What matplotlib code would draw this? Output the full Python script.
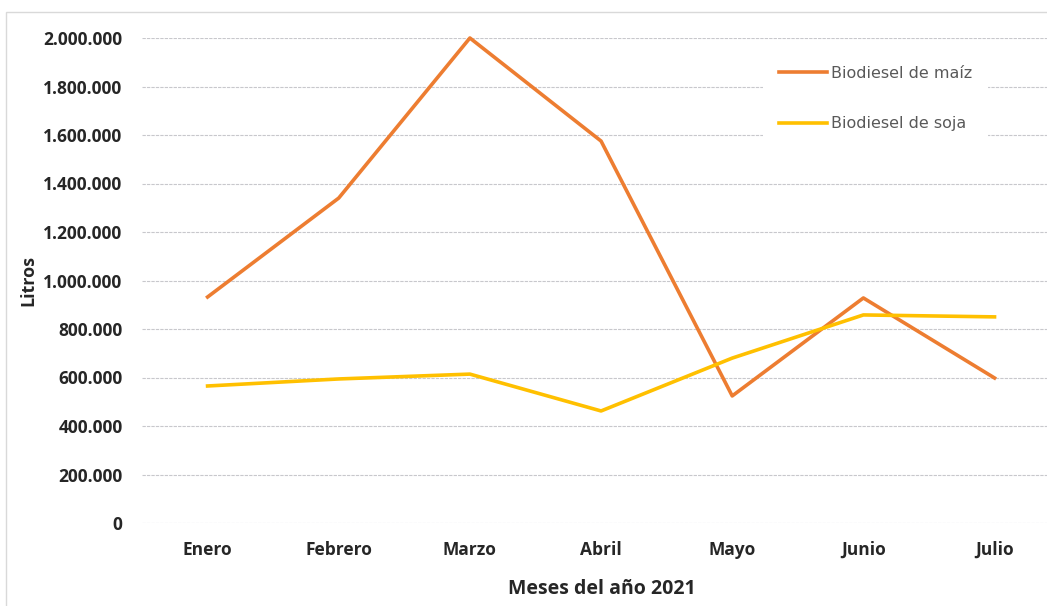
import matplotlib.pyplot as plt
from matplotlib.patches import Rectangle
from matplotlib.ticker import FuncFormatter

# Biodiesel production per month (litres)
meses = ["Enero", "Febrero", "Marzo", "Abril", "Mayo", "Junio", "Julio"]
maiz = [932000, 1340000, 2000000, 1575000, 524000, 928000, 598000]
soja = [565000, 594000, 614000, 462000, 680000, 858000, 850000]
y_ticks = [0, 200000, 400000, 600000, 800000, 1000000, 1200000, 1400000, 1600000, 1800000, 2000000]

fig = plt.figure(figsize=(10.47, 6.06), dpi=100)

# light outer frame like the chart area border
fig.patches.append(Rectangle((6 / 1047, -0.01), 1.02, (606 - 12) / 606 + 0.01,
                             transform=fig.transFigure, fill=False,
                             edgecolor="#d9d9d9", linewidth=1))

ax = fig.add_axes([142 / 1047, (606 - 523) / 606, 1 - 142 / 1047, (523 - 38) / 606])

x = list(range(len(meses)))
ax.plot(x, maiz, color="#ED7D31", linewidth=2.6, label="Biodiesel de maíz",
        clip_on=False, solid_joinstyle="round")
ax.plot(x, soja, color="#FFC000", linewidth=2.6, label="Biodiesel de soja",
        clip_on=False, solid_joinstyle="round")

ax.set_xlim(-0.5, 6.4)
ax.set_ylim(0, 2000000)
ax.set_yticks(y_ticks)
ax.yaxis.set_major_formatter(FuncFormatter(lambda v, p: f"{int(v):,}".replace(",", ".")))
ax.set_xticks(x)
ax.set_xticklabels(meses)

ax.grid(axis="y", color="#c8c8cc", linewidth=0.8, linestyle=(0, (3, 1)))
ax.set_axisbelow(True)
for s in ax.spines.values():
    s.set_visible(False)
ax.tick_params(length=0, labelsize=12.5, colors="#262626")
for lab in ax.get_xticklabels() + ax.get_yticklabels():
    lab.set_fontweight("bold")
    lab.set_family("Open Sans")
ax.tick_params(axis="x", pad=13)
ax.tick_params(axis="y", pad=14)

fig.text(28 / 1047, 1 - 280 / 606, "Litros", rotation=90, ha="center", va="center",
         fontsize=13, fontweight="bold", family="Open Sans", color="#262626")
fig.text(602 / 1047, 1 - 589 / 606, "Meses del año 2021", ha="center", va="center",
         fontsize=14, fontweight="bold", family="Open Sans", color="#262626")

leg = ax.legend(loc="upper left", bbox_to_anchor=(763 / 1047, 1 - 50 / 606),
                bbox_transform=fig.transFigure, frameon=True, fancybox=False,
                edgecolor="none", facecolor="white", framealpha=1,
                fontsize=11.5, handlelength=3.0, handletextpad=0.25, labelspacing=2.2,
                borderpad=1.0, borderaxespad=0)
for t in leg.get_texts():
    t.set_color("#595959")

fig.savefig("out.png", dpi=100)
